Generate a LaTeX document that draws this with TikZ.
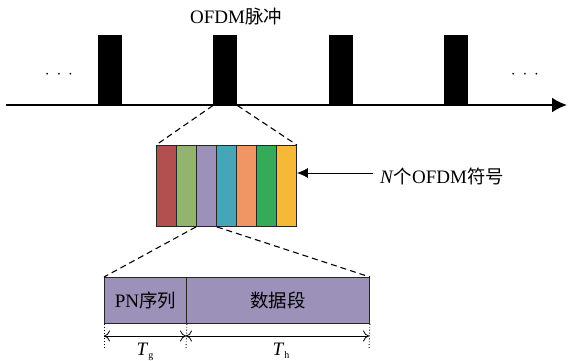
\documentclass[tikz,border=0pt]{standalone}
\usepackage{fontspec}
\setmainfont{Liberation Serif}
\newfontfamily\cjk{Noto Sans CJK SC}[Scale=0.97]
\usetikzlibrary{arrows.meta,positioning}
\definecolor{cA}{RGB}{178,80,80}
\definecolor{cB}{RGB}{146,180,110}
\definecolor{cC}{RGB}{155,145,185}
\definecolor{cD}{RGB}{70,165,185}
\definecolor{cE}{RGB}{240,150,100}
\definecolor{cF}{RGB}{55,170,90}
\definecolor{cG}{RGB}{245,185,55}
\tikzset{
  pulse/.style={fill=black, draw=none, inner sep=0pt, minimum width=24pt, minimum height=70pt, anchor=south west},
  stripe/.style={draw=black!85, line width=0.9pt, inner sep=0pt, minimum width=20pt, minimum height=81pt, anchor=north west},
  seg/.style={draw=black!85, line width=0.9pt, fill=cC, inner sep=0pt, minimum height=46pt, anchor=north west},
  zoomline/.style={dashed, dash pattern=on 6pt off 4pt, line width=1.1pt},
  lbl/.style={font=\fontsize{19}{21}\selectfont, inner sep=0pt},
  dim/.style={line width=0.8pt, {To[length=6pt,width=11pt]}-{To[length=6pt,width=11pt]}},
  guide/.style={dotted, line width=0.9pt}
}
\begin{document}
\begin{tikzpicture}[x=1pt,y=-1pt]
\useasboundingbox (0,0) rectangle (570,361);
% axis
\coordinate (ax0) at (6,105);
\coordinate (ax1) at (567,105);
\draw[line width=2.2pt, -{Latex[length=15pt,width=15pt]}] (ax0) -- (ax1);
% pulses
\node[pulse] (p1) at (98,105.5) {};
\node[pulse] (p2) at (213,105.5) {};
\node[pulse] (p3) at (329,105.5) {};
\node[pulse] (p4) at (444,105.5) {};
\node[lbl] (dl) at (59,75) {$\cdot\hspace{3pt}\cdot\hspace{3pt}\cdot$};
\node[lbl] (dr) at (525,75) {$\cdot\hspace{3pt}\cdot\hspace{3pt}\cdot$};
\node[lbl] (ttl) at (236,17) {OFDM{\cjk 脉冲}};
% stripes
\node[stripe, fill=cA] (s1) at (156,145) {};
\node[stripe, fill=cB] (s2) at (176,145) {};
\node[stripe, fill=cC] (s3) at (196,145) {};
\node[stripe, fill=cD] (s4) at (216,145) {};
\node[stripe, fill=cE] (s5) at (236,145) {};
\node[stripe, fill=cF] (s6) at (256,145) {};
\node[stripe, fill=cG] (s7) at (276,145) {};
\draw[zoomline] (p2.south west) -- (s1.north west);
\draw[zoomline] (p2.south east) -- (s7.north east);
% N OFDM label
\node[lbl, anchor=west] (nl) at (380,176) {\textit{N}{\cjk 个}OFDM{\cjk 符号}};
\coordinate (na) at (373,173);
\draw[line width=1pt, -{Latex[length=11pt,width=10pt]}] (na) -- (s7.east |- na);
% lower segments
\node[seg, minimum width=82pt] (pn) at (104,277) {};
\node[seg, minimum width=183pt] (data) at (186,277) {};
\node[lbl] at (pn.center) {PN{\cjk 序列}};
\node[lbl] at (data.center) {\cjk 数据段};
\draw[zoomline] (s3.south west) -- (pn.north west);
\draw[zoomline] (s3.south east) -- (data.north east);
% dimensions
\coordinate (g0) at (104,349);
\coordinate (g1) at (186,349);
\coordinate (g2) at (369,349);
\draw[guide] (pn.south west) -- (g0);
\draw[guide] (pn.south east) -- (g1);
\draw[guide] (data.south east) -- (g2);
\coordinate (d0) at (104,336);
\coordinate (d1) at (186,336);
\coordinate (d2) at (369,336);
\draw[dim] (d0) -- (d1);
\draw[dim] (d1) -- (d2);
\node[lbl, anchor=base] (tg) at (145,355) {\textit{T}\raisebox{-3pt}{\fontsize{10}{10}\selectfont g}};
\node[lbl, anchor=base] (th) at (281,355) {\textit{T}\raisebox{-3pt}{\fontsize{10}{10}\selectfont h}};
\end{tikzpicture}
\end{document}
